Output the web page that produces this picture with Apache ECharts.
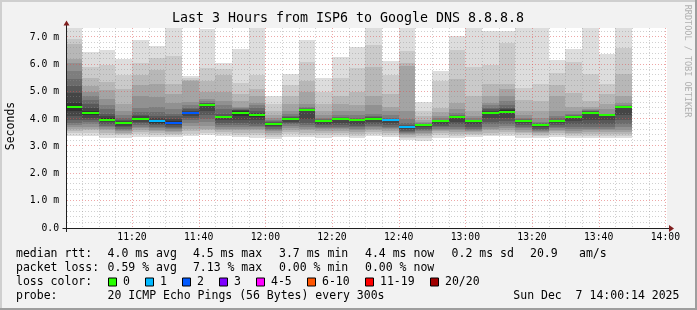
<!DOCTYPE html>
<html><head><meta charset="utf-8">
<script src="https://cdn.jsdelivr.net/npm/echarts@6/dist/echarts.min.js"></script>
<style>html,body{margin:0;padding:0;background:#f2f2f2}#c{width:697px;height:310px}</style>
</head><body><div id="c"></div>
<script>
// ---------- data ----------
const binTimes = ['11:00','11:05','11:10','11:15','11:20','11:25','11:30','11:35','11:40','11:45',
  '11:50','11:55','12:00','12:05','12:10','12:15','12:20','12:25','12:30','12:35',
  '12:40','12:45','12:50','12:55','13:00','13:05','13:10','13:15','13:20','13:25',
  '13:30','13:35','13:40','13:45'];
const medians = [4.44,4.21,3.98,3.84,4.01,3.91,3.87,4.22,4.50,4.06,4.21,4.13,3.80,3.99,4.34,3.91,4.01,3.95,4.01,3.95,
  3.72,3.77,3.94,4.06,3.94,4.23,4.27,3.94,3.79,3.94,4.09,4.23,4.13,4.43];
const lossCounts = [0,0,0,0,0,1,2,2,0,0,0,0,0,0,0,0,0,0,0,1,1,0,0,0,0,0,0,0,0,0,0,0,0,0];
const pings = [
 [3.38,3.47,3.55,3.62,3.70,3.78,3.85,3.95,4.10,4.28,4.60,4.95,5.20,5.45,5.75,6.05,6.20,6.75,6.95,7.60],
 [3.38,3.48,3.58,3.65,3.72,3.80,3.88,3.95,4.05,4.15,4.28,4.40,4.55,4.70,4.85,5.00,5.20,5.50,5.90,6.45],
 [3.32,3.42,3.50,3.58,3.64,3.70,3.76,3.82,3.88,3.94,4.03,4.10,4.20,4.35,4.50,4.75,5.05,5.35,6.00,6.55],
 [3.32,3.40,3.45,3.50,3.55,3.60,3.65,3.70,3.75,3.80,3.87,3.92,3.98,4.05,4.15,4.30,4.55,5.10,5.60,6.20],
 [3.35,3.45,3.52,3.60,3.66,3.72,3.78,3.84,3.90,3.97,4.05,4.10,4.15,4.25,4.40,4.85,5.25,5.60,6.05,6.89],
 [3.35,3.43,3.50,3.55,3.60,3.66,3.72,3.77,3.82,3.87,3.96,4.03,4.12,4.25,4.45,4.80,5.30,5.80,6.25,6.69],
 [3.33,3.40,3.46,3.52,3.57,3.62,3.67,3.72,3.77,3.82,3.92,4.00,4.10,4.20,4.35,4.60,4.90,5.30,6.30,7.50],
 [3.37,3.46,3.55,3.65,3.75,3.85,3.95,4.03,4.10,4.17,4.27,4.31,4.36,4.42,4.50,4.62,5.38,5.44,5.50,5.57],
 [3.42,3.50,3.58,3.65,3.75,3.90,4.00,4.15,4.30,4.48,4.52,4.54,4.57,4.60,4.65,4.75,5.00,5.40,5.87,7.32],
 [3.38,3.45,3.52,3.58,3.65,3.72,3.78,3.85,3.95,4.03,4.09,4.12,4.20,4.35,4.50,4.65,5.00,5.60,5.85,6.06],
 [3.33,3.42,3.50,3.58,3.65,3.72,3.78,3.85,3.95,4.12,4.30,4.32,4.34,4.36,4.40,4.45,4.65,4.90,5.32,6.58],
 [3.30,3.40,3.50,3.60,3.65,3.70,3.75,3.80,3.95,4.09,4.17,4.22,4.30,4.40,4.50,4.60,4.85,5.10,5.60,7.45],
 [3.25,3.35,3.43,3.50,3.55,3.60,3.65,3.70,3.74,3.78,3.82,3.84,3.88,3.92,3.98,4.05,4.15,4.30,4.55,4.83],
 [3.35,3.44,3.52,3.60,3.68,3.74,3.80,3.85,3.90,3.97,4.01,4.03,4.06,4.12,4.20,4.30,4.55,4.85,5.25,5.65],
 [3.35,3.42,3.50,3.58,3.65,3.72,3.78,3.85,4.00,4.32,4.36,4.37,4.38,4.40,4.45,4.55,5.00,5.40,6.10,6.91],
 [3.30,3.40,3.48,3.56,3.62,3.67,3.72,3.78,3.83,3.89,3.93,3.94,3.96,4.00,4.05,4.15,4.30,4.55,5.00,5.50],
 [3.34,3.42,3.50,3.57,3.62,3.67,3.72,3.78,3.85,3.99,4.03,4.04,4.05,4.08,4.15,4.30,4.55,4.85,5.50,6.26],
 [3.30,3.38,3.46,3.54,3.60,3.65,3.70,3.76,3.82,3.93,3.97,3.98,4.00,4.05,4.15,4.30,4.50,5.00,5.88,6.63],
 [3.36,3.44,3.52,3.58,3.64,3.70,3.75,3.80,3.88,3.99,4.03,4.04,4.06,4.12,4.20,4.50,4.85,5.90,6.70,7.45],
 [3.35,3.42,3.50,3.57,3.62,3.67,3.72,3.78,3.85,3.93,3.97,3.98,4.00,4.05,4.15,4.30,4.45,4.90,5.60,6.14],
 [3.22,3.30,3.35,3.40,3.44,3.48,3.52,3.57,3.62,3.69,3.75,3.76,3.78,3.85,4.00,4.30,5.95,6.05,6.50,7.45],
 [3.20,3.30,3.38,3.45,3.50,3.55,3.60,3.65,3.70,3.75,3.79,3.80,3.81,3.83,3.86,3.90,3.98,4.10,4.30,4.61],
 [3.32,3.40,3.48,3.55,3.60,3.65,3.70,3.76,3.82,3.90,3.94,3.95,3.96,3.98,4.02,4.12,4.25,4.42,5.40,5.75],
 [3.30,3.38,3.45,3.52,3.58,3.65,3.72,3.80,3.90,4.03,4.07,4.08,4.10,4.14,4.22,4.35,4.60,5.45,6.55,7.06],
 [3.33,3.40,3.46,3.52,3.56,3.60,3.64,3.70,3.80,3.90,3.94,3.95,3.96,3.98,4.03,4.12,4.30,4.85,5.90,7.45],
 [3.36,3.43,3.50,3.58,3.65,3.72,3.80,3.90,4.05,4.19,4.27,4.30,4.35,4.42,4.50,4.60,4.85,5.30,6.00,7.24],
 [3.36,3.44,3.52,3.60,3.68,3.75,3.82,3.92,4.05,4.22,4.32,4.35,4.40,4.50,4.65,4.85,5.10,5.30,6.80,7.24],
 [3.32,3.40,3.47,3.54,3.60,3.66,3.72,3.78,3.85,3.93,3.95,3.96,3.97,4.00,4.05,4.15,4.30,4.70,5.15,7.45],
 [3.30,3.36,3.42,3.47,3.52,3.56,3.60,3.65,3.70,3.77,3.81,3.82,3.83,3.85,3.90,4.05,4.30,4.65,5.30,7.45],
 [3.33,3.40,3.48,3.55,3.60,3.66,3.72,3.78,3.85,3.92,3.95,3.96,3.98,4.02,4.10,4.30,4.85,5.25,5.70,6.18],
 [3.30,3.38,3.45,3.50,3.55,3.62,3.72,3.82,3.92,4.06,4.10,4.10,4.11,4.14,4.20,4.28,4.45,4.95,6.10,6.58],
 [3.30,3.38,3.46,3.52,3.58,3.65,3.72,3.80,3.95,4.20,4.26,4.27,4.29,4.31,4.34,4.38,4.45,4.65,5.65,7.45],
 [3.30,3.38,3.45,3.52,3.58,3.64,3.72,3.82,3.95,4.12,4.14,4.14,4.15,4.16,4.20,4.35,4.55,4.90,5.30,6.39],
 [3.30,3.38,3.44,3.52,3.60,3.70,3.80,3.95,4.15,4.42,4.44,4.44,4.45,4.46,4.50,4.60,4.85,5.65,6.60,7.45]
];
const xTickLabels = ['11:20','11:40','12:00','12:20','12:40','13:00','13:20','13:40','14:00'];
const yTickValues = [0,1,2,3,4,5,6,7];
const lossLabels = ['0','1','2','3','4-5','6-10','11-19','20/20'];
const lossUpper  = [0,1,2,3,5,10,19,20];
const lossColors = ['#26ff00','#00b8ff','#0059ff','#7e00ff','#ff00ff','#ff5500','#ff0000','#a10000'];
const rttStats = ['4.0 ms avg','4.5 ms max','3.7 ms min','4.4 ms now','0.2 ms sd','20.9','am/s'];
const lossStats = ['0.59 % avg','7.13 % max','0.00 % min','0.00 % now'];
const titleText = 'Last 3 Hours from ISP6 to Google DNS 8.8.8.8';
const probeText = '20 ICMP Echo Pings (56 Bytes) every 300s';
const dateText = 'Sun Dec  7 14:00:14 2025';

// ---------- helpers ----------
const toMin = s => { const [h,m] = s.split(':').map(Number); return (h-11)*60+m; };
const binStart = binTimes.map(toMin);
const binWidth = 5;
const xMin = 0.5, xMax = 180.5, yMin = 0, yMax = 7.34;
const lossIdx = c => lossUpper.findIndex(u => c <= u);
const MONO = '"DejaVu Sans Mono", monospace';
const MINOR = 'rgba(143,143,143,0.42)', MAJOR = 'rgba(222,79,79,0.5)';

const vGrid = []; for (let m = 5; m <= 180; m += 5) vGrid.push([m]);
const hGrid = []; for (let k = 1; k <= 36; k++) hGrid.push([k/5]);

function txt(s, x, y, size, extra) {
  return Object.assign({type:'text', x, y, silent:true,
    style:{text:s, fill:'#000', font: size+'px '+MONO, align:'left', verticalAlign:'middle',
           textAlign:'left', textVerticalAlign:'middle'}}, extra||{});
}

// ---------- graphic (frame, axes, texts) ----------
const L = [254.5, 268.2, 282.2, 296.2];
const FS = 11.5;
const g = [];
g.push({type:'rect', shape:{x:0,y:0,width:697,height:2}, style:{fill:'#cfcfcf'}});
g.push({type:'rect', shape:{x:0,y:0,width:2,height:310}, style:{fill:'#cfcfcf'}});
g.push({type:'rect', shape:{x:0,y:308,width:697,height:2}, style:{fill:'#9e9e9e'}});
g.push({type:'rect', shape:{x:695,y:0,width:2,height:310}, style:{fill:'#9e9e9e'}});
// axes
g.push({type:'line', shape:{x1:62.5,y1:228.5,x2:670,y2:228.5}, style:{stroke:'#1f1f1f', lineWidth:1}});
g.push({type:'line', shape:{x1:66.5,y1:232,x2:66.5,y2:25}, style:{stroke:'#1f1f1f', lineWidth:1}});
g.push({type:'polygon', shape:{points:[[669,225],[669,232],[674,228.5]]}, style:{fill:'#801f1f'}});
g.push({type:'polygon', shape:{points:[[63.5,25.5],[69.5,25.5],[66.5,20.5]]}, style:{fill:'#801f1f'}});
// title + side texts
g.push({type:'text', x:348, y:19, silent:true,
  style:{text:titleText, fill:'#000', font:'13.3px '+MONO, align:'center', textAlign:'center', verticalAlign:'middle', textVerticalAlign:'middle'}});
g.push({type:'text', x:11, y:126, rotation:Math.PI/2, silent:true,
  style:{text:'Seconds', fill:'#000', font:FS+'px '+MONO, align:'center', textAlign:'center', verticalAlign:'middle', textVerticalAlign:'middle'}});
g.push({type:'text', x:687.5, y:61, rotation:-Math.PI/2, silent:true,
  style:{text:'RRDTOOL / TOBI OETIKER', fill:'#b0b0b0', font:'8.5px '+MONO, align:'center', textAlign:'center', verticalAlign:'middle', textVerticalAlign:'middle'}});
// legend line 1
const rttX = [107.6,192.9,279,365,451.6,530,579];
g.push(txt('median rtt:', 16, L[0], FS));
rttStats.forEach((s,i)=> g.push(txt(s, rttX[i], L[0], FS)));
// line 2
g.push(txt('packet loss:', 16, L[1], FS));
lossStats.forEach((s,i)=> g.push(txt(s, rttX[i], L[1], FS)));
// line 3
g.push(txt('loss color:', 16, L[2], FS));
const boxX = [108.5,145.5,182.5,219.5,256.5,307.5,365.5,430.5];
lossLabels.forEach((s,i)=>{
  g.push({type:'rect', shape:{x:boxX[i], y:278, width:8, height:8}, style:{fill:lossColors[i], stroke:'#000', lineWidth:1}});
  g.push(txt(s, boxX[i]+14.5, L[2], FS));
});
// line 4
g.push(txt('probe:', 16, L[3], FS));
g.push(txt(probeText, 107.6, L[3], FS));
g.push(txt(dateText, 513.3, L[3], FS));

// ---------- chart ----------
const chart = echarts.init(document.getElementById('c'));
chart.setOption({
  backgroundColor:'#f2f2f2',
  animation:false,
  grid:{left:67, top:28, width:600, height:200, show:true, backgroundColor:'#ffffff', borderWidth:0},
  xAxis:{type:'value', min:xMin, max:xMax,
    axisLine:{show:false}, axisTick:{show:false}, splitLine:{show:false},
    axisLabel:{customValues: xTickLabels.map(toMin), margin:4,
      formatter: v => xTickLabels[xTickLabels.map(toMin).indexOf(Math.round(v))] || '',
      color:'#000', fontFamily:'DejaVu Sans Mono', fontSize:9.75}},
  yAxis:{type:'value', min:yMin, max:yMax, interval:1,
    axisLine:{show:false}, axisTick:{show:false}, splitLine:{show:false},
    axisLabel:{customValues: yTickValues, margin:8,
      formatter: v => v === 0 ? '0.0' : v.toFixed(1)+' m',
      color:'#000', fontFamily:'DejaVu Sans Mono', fontSize:9.75}},
  graphic:{elements:g},
  series:[
    { type:'custom', name:'smoke', clip:true, z:2,
      data: pings.map((p,i)=>[binStart[i]].concat(p)),
      encode:{x:0, y:[1,2,3,4,5,6,7,8,9,10,11,12,13,14,15,16,17,18,19,20]},
      renderItem(params, api){
        const t = api.value(0);
        const xa = Math.round(api.coord([t,0])[0]);
        const xb = Math.round(api.coord([t+binWidth,0])[0]);
        const ch = [];
        for (let b=0;b<10;b++){
          const lo = api.value(1+b), hi = api.value(20-b);
          const ya = Math.round(api.coord([t,hi])[1]);
          const yb = Math.round(api.coord([t,lo])[1]);
          const c = 221-19*b;
          ch.push({type:'rect', shape:{x:xa,y:ya,width:xb-xa,height:Math.max(yb-ya,1)},
            style:{fill:'rgb('+c+','+c+','+c+')'}});
        }
        return {type:'group', children:ch};
      }},
    { type:'custom', name:'vgrid', z:3, silent:true, data:vGrid, encode:{x:0},
      renderItem(params, api){
        const m = api.value(0);
        const x = Math.round(api.coord([m,0])[0]) + 0.5;
        const y1 = api.coord([m,yMax])[1], y2 = api.coord([m,yMin])[1];
        const major = m % 20 === 0;
        return {type:'line', shape:{x1:x,y1:y1,x2:x,y2:y2},
          style:{stroke: major ? MAJOR : MINOR, lineWidth:1, lineDash:[1,2]}};
      }},
    { type:'custom', name:'hgrid', z:3, silent:true, data:hGrid, encode:{y:0},
      renderItem(params, api){
        const v = api.value(0);
        const y = Math.round(api.coord([xMin,v])[1]) - 0.5;
        const x1 = api.coord([xMin,v])[0], x2 = api.coord([xMax,v])[0];
        const major = Math.abs(v - Math.round(v)) < 1e-6;
        return {type:'line', shape:{x1:x1,y1:y,x2:x2,y2:y},
          style:{stroke: major ? MAJOR : MINOR, lineWidth:1, lineDash:[1,2]}};
      }},
    { type:'custom', name:'median', z:4, clip:true,
      data: medians.map((m,i)=>[binStart[i], m, lossCounts[i]]),
      encode:{x:0, y:1},
      renderItem(params, api){
        const t = api.value(0);
        const xa = Math.round(api.coord([t,0])[0]);
        const xb = Math.round(api.coord([t+binWidth,0])[0]);
        const yc = Math.round(api.coord([t, api.value(1)])[1]);
        return {type:'rect', shape:{x:xa, y:yc-1, width:xb-xa, height:2},
          style:{fill: lossColors[lossIdx(api.value(2))]}};
      }}
  ]
});
</script></body></html>
